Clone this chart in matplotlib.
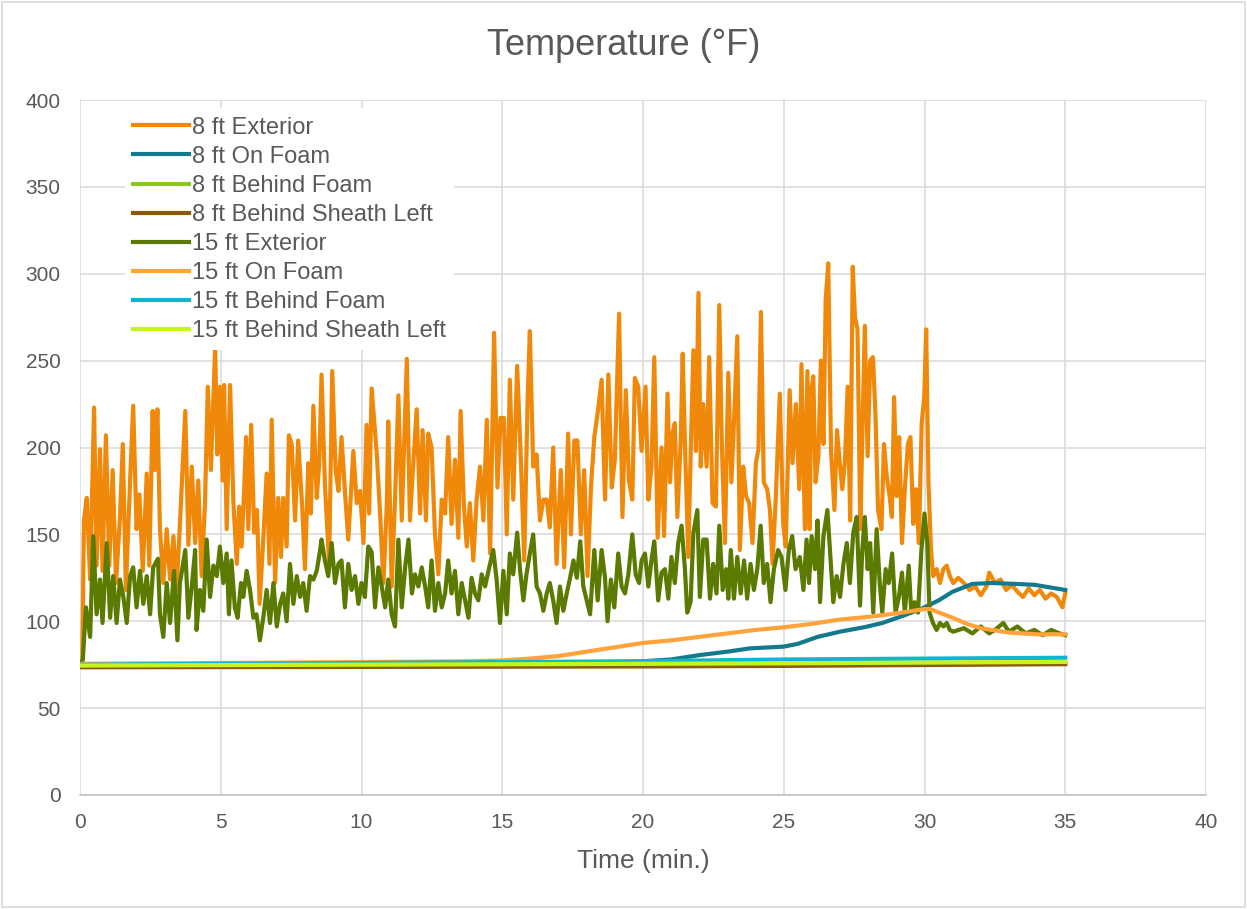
import numpy as np
import matplotlib
matplotlib.use("Agg")
import matplotlib.pyplot as plt
from matplotlib.patches import Rectangle

plt.rcParams['font.family']=['Liberation Sans','DejaVu Sans']

# 8 ft Exterior
t_ext8=[0.0,0.08,0.14,0.24,0.36,0.5,0.59,0.71,0.8,0.92,1.04,1.16,1.28,1.42,1.52,1.63,1.78,1.89,2.01,2.11,2.23,2.37,2.46,2.58,2.66,2.75,2.84,2.96,3.08,3.2,3.32,3.43,3.55,3.74,3.85,3.97,4.09,4.2,4.32,4.44,4.54,4.65,4.8,4.88,4.97,5.07,5.12,5.21,
	5.33,5.45,5.57,5.65,5.74,5.83,5.9,5.98,6.08,6.19,6.29,6.38,6.51,6.63,6.73,6.81,6.93,7.04,7.14,7.22,7.34,7.42,7.52,7.64,7.75,7.9,7.99,8.11,8.2,8.29,8.41,8.5,8.58,8.7,8.85,8.96,9.08,9.18,9.29,9.41,9.53,9.71,9.83,9.95,10.07,10.18,10.27,10.36,
	10.54,10.66,10.78,10.9,10.95,11.07,11.19,11.31,11.43,11.61,11.72,11.84,11.96,12.08,12.17,12.29,12.37,12.49,12.61,12.73,12.85,12.97,13.08,13.2,13.32,13.44,13.52,13.64,13.74,13.85,13.97,14.09,14.21,14.33,14.45,14.57,14.71,14.83,14.94,15.06,15.16,15.27,15.39,15.53,
	15.67,15.78,15.9,15.98,16.1,16.22,16.34,16.46,16.58,16.69,16.81,16.93,17.08,17.2,17.34,17.44,17.56,17.67,17.79,17.91,18.03,18.15,18.27,18.39,18.53,18.65,18.77,18.89,19.0,19.15,19.27,19.39,19.5,19.62,19.71,19.83,19.95,20.09,20.19,20.3,20.4,20.52,20.66,
	20.75,20.87,20.96,21.05,21.13,21.22,21.34,21.41,21.49,21.61,21.69,21.79,21.88,21.97,22.05,22.14,22.26,22.35,22.47,22.59,22.71,22.8,22.91,23.03,23.14,23.23,23.35,23.44,23.56,23.66,23.77,23.89,24.01,24.1,24.19,24.29,24.41,24.51,24.6,24.72,24.86,24.98,25.07,25.21,25.31,25.43,25.55,25.63,25.75,25.84,
	25.92,25.98,26.05,26.13,26.23,26.32,26.41,26.49,26.58,26.68,26.8,26.89,26.99,27.08,27.17,27.27,27.36,27.45,27.53,27.62,27.72,27.79,27.88,27.98,28.07,28.17,28.26,28.35,28.47,28.56,28.66,28.76,28.84,28.92,29.01,29.1,29.2,29.3,29.41,29.5,29.6,29.7,29.8,29.9,29.99,30.06,30.14,30.23,30.31,30.43,30.55,30.67,30.79,30.9,31.02,
	31.2,31.4,31.6,31.8,32.0,32.2,32.3,32.5,32.7,32.9,33.1,33.3,33.5,33.7,33.9,34.1,34.3,34.5,34.7,34.9,35.0]
v_ext8=[75,76,158,171,124,223,132,199,129,207,132,187,122,160,202,118,181,224,153,173,129,185,132,221,187,222,153,122,153,124,149,118,156,221,144,189,145,181,126,168,235,187,257,196,235,181,236,153,
	236,168,133,166,143,175,206,153,213,151,164,110,147,185,133,216,122,171,137,171,143,207,202,158,204,164,130,191,162,224,171,191,242,179,133,244,187,175,206,175,147,198,168,175,145,213,162,234,
	197,162,122,168,215,120,170,230,158,251,158,191,222,162,210,158,208,200,150,127,170,162,206,156,193,148,221,166,143,168,135,170,189,158,216,139,266,177,217,217,150,239,170,247,
	189,135,227,267,189,196,158,170,170,154,200,133,187,131,208,150,204,204,150,187,126,177,206,220,239,170,242,177,193,277,160,233,181,170,240,235,198,235,170,189,252,148,200,
	149,231,180,208,214,160,204,254,202,137,195,256,198,289,189,225,189,252,168,166,282,202,145,243,180,214,264,141,189,172,168,145,191,199,278,180,176,164,133,172,231,156,143,233,191,225,176,248,153,244,
	153,233,241,180,195,250,202,285,306,198,164,210,191,176,191,235,158,304,275,268,153,206,270,195,250,252,218,164,153,202,183,172,160,229,172,206,145,176,202,206,156,176,145,214,229,268,180,141,126,130,122,130,132,126,122,
	125,122,118,120,115,120,128,122,124,118,121,117,114,119,115,118,113,116,114,108,116]

# 15 ft Exterior
t_ext15=[0.0,0.1,0.21,0.36,0.47,0.59,0.71,0.8,0.95,1.07,1.18,1.3,1.42,1.54,1.66,1.78,1.89,2.01,2.13,2.25,2.37,2.49,2.6,2.77,2.84,2.96,3.08,3.2,3.34,3.46,3.55,3.74,3.85,3.97,4.09,4.14,4.26,4.38,4.5,4.62,4.74,4.86,4.97,5.09,5.21,
	5.29,5.38,5.5,5.6,5.72,5.8,5.92,6.04,6.16,6.27,6.39,6.51,6.63,6.75,6.87,6.99,7.11,7.22,7.34,7.46,7.58,7.7,7.82,7.93,8.05,8.17,8.29,8.41,8.53,8.58,8.7,8.82,8.94,9.06,9.18,9.29,9.41,9.53,9.65,9.77,9.89,10.0,10.12,10.24,10.36,
	10.48,10.6,10.72,10.84,10.95,11.07,11.19,11.31,11.43,11.55,11.67,11.79,11.9,12.02,12.14,12.26,12.37,12.49,12.61,12.73,12.85,12.97,13.08,13.2,13.32,13.44,13.56,13.68,13.8,13.91,14.03,14.15,14.27,14.39,14.51,14.68,14.8,14.92,15.04,15.16,15.27,15.39,15.53,
	15.63,15.75,15.86,15.98,16.1,16.22,16.34,16.46,16.58,16.69,16.81,16.93,17.05,17.17,17.29,17.41,17.53,17.65,17.77,17.88,18.0,18.12,18.27,18.39,18.53,18.65,18.74,18.86,18.98,19.12,19.24,19.36,19.48,19.62,19.74,19.86,19.95,20.07,20.19,20.3,20.4,20.54,20.66,
	20.78,20.9,21.01,21.13,21.25,21.37,21.49,21.57,21.69,21.79,21.93,22.02,22.14,22.26,22.38,22.49,22.61,22.71,22.83,22.95,23.03,23.12,23.23,23.35,23.47,23.59,23.7,23.82,23.94,24.06,24.18,24.29,24.41,24.53,24.65,24.8,24.92,25.06,25.18,25.3,25.42,25.57,25.7,25.81,
	25.9,25.99,26.11,26.2,26.29,26.41,26.55,26.64,26.76,26.88,27.0,27.12,27.24,27.35,27.47,27.59,27.71,27.79,27.88,27.98,28.07,28.18,28.3,28.41,28.5,28.62,28.73,28.85,28.97,29.09,29.2,29.3,29.44,29.53,29.65,29.77,29.89,30.0,30.1,30.18,30.3,30.43,30.55,30.67,30.79,30.9,31.02,
	31.4,31.7,32.0,32.3,32.5,32.8,33.0,33.3,33.6,33.9,34.2,34.5,34.8,35.0]
v_ext15=[75,78,108,91,149,104,124,99,145,102,126,99,124,114,99,126,131,108,129,110,126,104,131,136,104,91,122,99,129,89,122,141,102,120,141,95,118,106,147,114,132,126,143,122,139,
	104,135,108,102,122,114,129,118,102,104,89,102,118,99,122,97,110,116,100,133,110,126,114,122,106,126,124,129,141,147,135,126,145,122,133,135,108,133,118,126,110,122,114,143,140,
	108,131,120,108,124,104,97,147,108,131,147,116,127,120,131,120,108,135,106,122,108,116,135,116,129,104,122,112,102,125,116,112,127,120,129,141,124,99,129,104,139,127,151,
	130,112,127,139,150,120,116,106,116,122,112,99,120,106,116,125,135,125,146,120,112,104,141,112,141,125,100,124,108,139,120,116,127,150,127,122,135,139,120,135,146,112,128,
	130,113,137,122,145,155,130,105,111,151,164,114,147,147,113,133,116,155,118,130,113,141,113,137,116,135,113,133,118,130,155,122,133,111,130,141,137,118,141,149,130,137,118,147,
	122,149,130,158,111,149,164,141,111,126,114,133,145,122,151,160,109,141,160,130,145,105,153,122,105,130,122,139,105,114,128,105,132,105,111,105,141,162,145,105,99,95,99,97,99,95,94,
	96,93,97,93,95,99,94,97,93,95,92,95,93,92]

# smoother sensors
t_foam8=[0,5,10,15,18,19,20,21,22,23,23.8,25,25.5,26.2,27,27.9,28.5,29.3,30,30.5,31,31.7,32.4,33.2,33.9,35]
v_foam8=[74,74.5,75,75.5,76,76.5,77,78,80.5,82.5,84.4,85.4,87,91,94,96.7,99,103.5,108,112,117,121.5,122,121.5,121,118]
t_foam15=[0,5,10,14,15,16,17,18,19,20,21,22,23,24,25,26,27,28,29,30,30.2,31,31.5,32,33,34,35]
v_foam15=[75.5,76,76.5,77,77.5,78.5,80,82.5,85,87.5,89,91,93,95,96.5,98.5,101,102.5,104.5,107,107,102,98.5,96,93.5,92.5,92.5]
t_flat=[0,10,20,25,30,35]
v_behind8=[74,74.2,74.5,74.8,75.2,75.6]
v_sheath8=[73.5,73.7,74,74.3,74.8,75.3]
v_behind15=[75,76,77,78,78.5,79]
v_sheath15=[74.5,75,75.5,75.8,76.2,76.6]

labels=['8 ft Exterior','8 ft On Foam','8 ft Behind Foam','8 ft Behind Sheath Left',
	'15 ft Exterior','15 ft On Foam','15 ft Behind Foam','15 ft Behind Sheath Left']
colors=['#F0890A','#137A8E','#8CC81E','#8B5A0A','#5A7A00','#FFA33A','#12B5CF','#C6F51E']

fig=plt.figure(figsize=(12.47,9.09),dpi=100)
ax=fig.add_axes([80/1247,114/909,1126/1247,695/909])

series=[(t_ext8,v_ext8),(t_foam8,v_foam8),(t_flat,v_behind8),(t_flat,v_sheath8),
	(t_ext15,v_ext15),(t_foam15,v_foam15),(t_flat,v_behind15),(t_flat,v_sheath15)]
for (t,v),lab,c in zip(series,labels,colors):
	ax.plot(t,v,color=c,lw=3.0,label=lab,solid_joinstyle='round')

ax.set_xlim(0,40);ax.set_ylim(0,400)
ax.set_xticks(np.arange(0,41,5));ax.set_yticks(np.arange(0,401,50))
ax.grid(True,color='#D9D9D9',lw=1.1)
ax.set_axisbelow(True)
for s in ['top','right','left']:
	ax.spines[s].set_visible(False)
ax.spines['bottom'].set_color('#BFBFBF');ax.spines['bottom'].set_linewidth(1.1)
ax.tick_params(length=0,labelsize=15,labelcolor='#595959')
ax.tick_params(axis='y',pad=14)
ax.tick_params(axis='x',pad=13)
ax.set_xlabel('Time (min.)',fontsize=19,color='#595959',labelpad=12)
fig.text(0.5,0.95,'Temperature (°F)',ha='center',va='center',fontsize=26,color='#595959')

leg=ax.legend(loc='upper left',bbox_to_anchor=(0.04,0.988),frameon=True,fontsize=17,
	handlelength=2.35,handletextpad=0.13,labelspacing=0.3,borderaxespad=0,borderpad=0.35)
leg.get_frame().set_edgecolor('none');leg.get_frame().set_facecolor('white');leg.get_frame().set_alpha(1)
for txt in leg.get_texts():
	txt.set_color('#595959')

fig.patches.append(Rectangle((0.002,0.002),0.996,0.996,transform=fig.transFigure,fill=False,edgecolor='#D9D9D9',lw=1.2))
fig.savefig('out.png',dpi=100)
